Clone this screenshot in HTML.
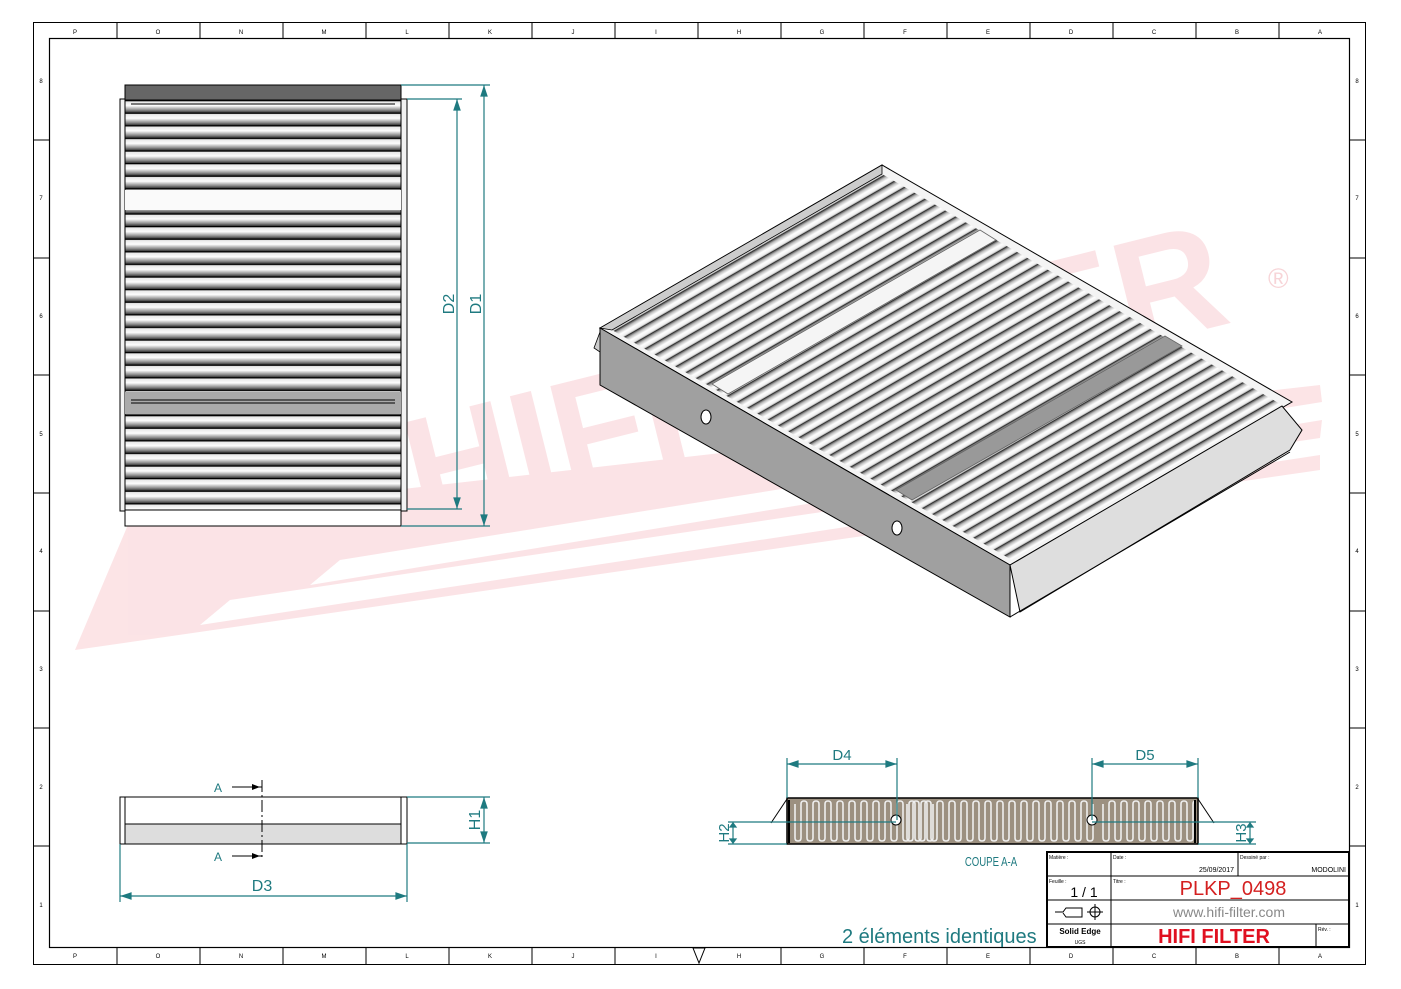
<!DOCTYPE html>
<html><head><meta charset="utf-8"><style>
html,body{margin:0;padding:0;background:#fff}
svg{display:block}
text{font-family:"Liberation Sans",sans-serif}
</style></head><body>
<svg width="1401" height="989" viewBox="0 0 1401 989" xmlns="http://www.w3.org/2000/svg">
<defs>
<linearGradient id="pv" x1="0" y1="0" x2="0" y2="1">
<stop offset="0" stop-color="#fff"/><stop offset="0.15" stop-color="#e8e8e8"/><stop offset="0.45" stop-color="#fdfdfd"/><stop offset="0.8" stop-color="#8a8a8a"/><stop offset="1" stop-color="#333"/>
</linearGradient>
<pattern id="pleatV" x="0" y="100" width="10" height="12.6" patternUnits="userSpaceOnUse">
<rect width="10" height="12.6" fill="url(#pv)"/><rect y="0" width="10" height="1.3" fill="#000"/>
</pattern>
<linearGradient id="ph" x1="0" y1="0" x2="1" y2="0">
<stop offset="0" stop-color="#555"/><stop offset="0.2" stop-color="#bbb"/><stop offset="0.5" stop-color="#fff"/><stop offset="0.8" stop-color="#eee"/><stop offset="1" stop-color="#777"/>
</linearGradient>
<pattern id="pleatI" width="10" height="300" patternUnits="userSpaceOnUse" patternTransform="matrix(1.025 0.5925 0.94 -0.543 600 328)">
<rect width="10" height="300" fill="url(#ph)"/><rect x="9.3" width="0.7" height="300" fill="#222"/>
</pattern>
<clipPath id="topc"><polygon points="612,330 882,174 1282,405 1012,560"/></clipPath>
<clipPath id="secc"><rect x="789" y="799" width="406" height="44"/></clipPath>
</defs>

<!-- watermark -->
<g fill="#fbdfe2" opacity="0.85">
<polygon points="75,650 130,520 1320,385 1322,402 340,560 310,585 1322,420 1320,438 230,600 200,625 1320,455 1320,470"/>
<polygon points="130,520 185,385 265,380 230,520"/>
<polygon points="230,520 265,380 330,378 300,515"/>
<text x="0" y="0" transform="translate(420,525) rotate(-14)" font-family="Liberation Serif,serif" font-weight="bold" font-size="150" fill="#fbdfe2">HIFI FILTER</text>
<text x="1268" y="288" font-size="28" fill="#f6cdd1">®</text>
</g>

<!-- borders -->
<rect x="33.5" y="22.5" width="1332" height="942" fill="none" stroke="#000" stroke-width="1"/>
<rect x="49.5" y="38.5" width="1300" height="909" fill="none" stroke="#000" stroke-width="1.2"/>
<g stroke="#000" stroke-width="1">
<line x1="117" y1="23" x2="117" y2="38"/><line x1="200" y1="23" x2="200" y2="38"/><line x1="283" y1="23" x2="283" y2="38"/><line x1="366" y1="23" x2="366" y2="38"/><line x1="449" y1="23" x2="449" y2="38"/><line x1="532" y1="23" x2="532" y2="38"/><line x1="615" y1="23" x2="615" y2="38"/><line x1="698" y1="23" x2="698" y2="38"/><line x1="781" y1="23" x2="781" y2="38"/><line x1="864" y1="23" x2="864" y2="38"/><line x1="947" y1="23" x2="947" y2="38"/><line x1="1030" y1="23" x2="1030" y2="38"/><line x1="1113" y1="23" x2="1113" y2="38"/><line x1="1196" y1="23" x2="1196" y2="38"/><line x1="1279" y1="23" x2="1279" y2="38"/>
<line x1="117" y1="948" x2="117" y2="964"/><line x1="200" y1="948" x2="200" y2="964"/><line x1="283" y1="948" x2="283" y2="964"/><line x1="366" y1="948" x2="366" y2="964"/><line x1="449" y1="948" x2="449" y2="964"/><line x1="532" y1="948" x2="532" y2="964"/><line x1="615" y1="948" x2="615" y2="964"/><line x1="781" y1="948" x2="781" y2="964"/><line x1="864" y1="948" x2="864" y2="964"/><line x1="947" y1="948" x2="947" y2="964"/><line x1="1030" y1="948" x2="1030" y2="964"/><line x1="1113" y1="948" x2="1113" y2="964"/><line x1="1196" y1="948" x2="1196" y2="964"/><line x1="1279" y1="948" x2="1279" y2="964"/>
<line x1="34" y1="140" x2="49" y2="140"/><line x1="34" y1="258" x2="49" y2="258"/><line x1="34" y1="375" x2="49" y2="375"/><line x1="34" y1="493" x2="49" y2="493"/><line x1="34" y1="611" x2="49" y2="611"/><line x1="34" y1="728" x2="49" y2="728"/><line x1="34" y1="846" x2="49" y2="846"/>
<line x1="1350" y1="140" x2="1365" y2="140"/><line x1="1350" y1="258" x2="1365" y2="258"/><line x1="1350" y1="375" x2="1365" y2="375"/><line x1="1350" y1="493" x2="1365" y2="493"/><line x1="1350" y1="611" x2="1365" y2="611"/><line x1="1350" y1="728" x2="1365" y2="728"/><line x1="1350" y1="846" x2="1365" y2="846"/>
</g>
<g font-size="6" fill="#000" text-anchor="middle">
<text x="75" y="34">P</text><text x="158" y="34">O</text><text x="241" y="34">N</text><text x="324" y="34">M</text><text x="407" y="34">L</text><text x="490" y="34">K</text><text x="573" y="34">J</text><text x="656" y="34">I</text><text x="739" y="34">H</text><text x="822" y="34">G</text><text x="905" y="34">F</text><text x="988" y="34">E</text><text x="1071" y="34">D</text><text x="1154" y="34">C</text><text x="1237" y="34">B</text><text x="1320" y="34">A</text>
<text x="75" y="958">P</text><text x="158" y="958">O</text><text x="241" y="958">N</text><text x="324" y="958">M</text><text x="407" y="958">L</text><text x="490" y="958">K</text><text x="573" y="958">J</text><text x="656" y="958">I</text><text x="739" y="958">H</text><text x="822" y="958">G</text><text x="905" y="958">F</text><text x="988" y="958">E</text><text x="1071" y="958">D</text><text x="1154" y="958">C</text><text x="1237" y="958">B</text><text x="1320" y="958">A</text>
<text x="41" y="83">8</text><text x="41" y="200">7</text><text x="41" y="318">6</text><text x="41" y="436">5</text><text x="41" y="553">4</text><text x="41" y="671">3</text><text x="41" y="789">2</text><text x="41" y="907">1</text>
<text x="1357" y="83">8</text><text x="1357" y="200">7</text><text x="1357" y="318">6</text><text x="1357" y="436">5</text><text x="1357" y="553">4</text><text x="1357" y="671">3</text><text x="1357" y="789">2</text><text x="1357" y="907">1</text>
</g>
<polygon points="693,948 705,948 699,963" fill="none" stroke="#000"/>

<!-- top view -->
<rect x="120" y="99" width="287" height="412" fill="#f2f2f2" stroke="#000"/>
<rect x="125" y="100" width="276" height="410" fill="url(#pleatV)" stroke="#000"/>
<rect x="125" y="85" width="276" height="15" fill="#666" stroke="#000"/>
<rect x="125" y="510" width="276" height="16" fill="#fff" stroke="#000"/>
<rect x="125" y="190" width="276" height="20" fill="#fafafa"/>
<rect x="125" y="392" width="276" height="22" fill="#aaa"/>
<line x1="131" y1="400" x2="395" y2="400" stroke="#000"/><line x1="131" y1="403" x2="395" y2="403" stroke="#000"/>
<line x1="131" y1="104" x2="395" y2="104" stroke="#000"/>
<g stroke="#1f7a80" stroke-width="1.2" fill="#1f7a80">
<line x1="401" y1="85" x2="490" y2="85"/><line x1="407" y1="99" x2="462" y2="99"/><line x1="407" y1="509" x2="462" y2="509"/><line x1="401" y1="526" x2="490" y2="526"/>
<line x1="457" y1="99" x2="457" y2="509"/><line x1="484" y1="85" x2="484" y2="526"/>
<polygon points="454,110 460,110 457,101"/><polygon points="454,498 460,498 457,507"/>
<polygon points="481,96 487,96 484,87"/><polygon points="481,515 487,515 484,524"/>
</g>
<text transform="translate(454,304) rotate(-90)" text-anchor="middle" font-size="16" fill="#1f7a80">D2</text>
<text transform="translate(481,304) rotate(-90)" text-anchor="middle" font-size="16" fill="#1f7a80">D1</text>

<!-- iso view -->
<polygon points="600,328 882,165 1292,402 1010,565" fill="#f4f4f4" stroke="#000"/>
<g clip-path="url(#topc)"><rect x="580" y="150" width="730" height="430" fill="url(#pleatI)"/></g>
<polygon points="712,384 980,230 996,240 728,394" fill="#f5f5f5" stroke="#666" stroke-width="0.8"/>
<polygon points="896,490 1165,336 1182,346 912,500" fill="#999" stroke="#666" stroke-width="0.8"/>
<polygon points="612,330 882,174 882,165 600,328" fill="#ccc" stroke="#000" stroke-width="0.8"/>
<polygon points="600,328 1010,565 1010,617 600,385" fill="#a0a0a0" stroke="#000"/>
<polygon points="1010,565 1282,406 1302,430 1290,450 1020,612" fill="#dedede" stroke="#000"/>
<line x1="1010" y1="617" x2="1290" y2="452" stroke="#000"/>
<polygon points="600,332 594,348 600,352" fill="#ccc" stroke="#000" stroke-width="0.8"/>
<ellipse cx="706" cy="417" rx="5" ry="7" fill="#fff" stroke="#000"/>
<ellipse cx="897" cy="528" rx="5" ry="7" fill="#fff" stroke="#000"/>

<!-- side view -->
<rect x="120" y="797" width="287" height="47" fill="#fff" stroke="#000"/>
<rect x="125" y="797" width="276" height="47" fill="#fff" stroke="#000"/>
<rect x="125" y="824" width="276" height="20" fill="#ddd" stroke="#000"/>
<g stroke="#000" stroke-width="1">
<line x1="262" y1="780" x2="262" y2="860" stroke-dasharray="12,3,2,3"/>
<line x1="232" y1="787" x2="262" y2="787"/><line x1="232" y1="856" x2="262" y2="856"/>
</g>
<polygon points="252,784 252,790 260,787" fill="#000"/><polygon points="252,853 252,859 260,856" fill="#000"/>
<text x="218" y="792" font-size="12" fill="#1f7a80" text-anchor="middle">A</text>
<text x="218" y="861" font-size="12" fill="#1f7a80" text-anchor="middle">A</text>
<g stroke="#1f7a80" stroke-width="1.2" fill="#1f7a80">
<line x1="407" y1="797" x2="490" y2="797"/><line x1="407" y1="843" x2="490" y2="843"/>
<line x1="484" y1="797" x2="484" y2="843"/>
<polygon points="481,808 487,808 484,799"/><polygon points="481,832 487,832 484,841"/>
<line x1="120" y1="844" x2="120" y2="902"/><line x1="407" y1="844" x2="407" y2="902"/>
<line x1="120" y1="896" x2="407" y2="896"/>
<polygon points="131,893 131,899 122,896"/><polygon points="396,893 396,899 405,896"/>
</g>
<text transform="translate(480,820) rotate(-90)" text-anchor="middle" font-size="16" fill="#1f7a80">H1</text>
<text x="262" y="891" text-anchor="middle" font-size="16" fill="#1f7a80">D3</text>

<!-- section -->
<rect x="787" y="798" width="411" height="46" fill="#9c9080" stroke="#000" stroke-width="1.5"/>
<g fill="none" stroke="#eee" stroke-width="1.6" clip-path="url(#secc)">
<path d="M795,804 v34 q0,3 3,3 q3,0 3,-3 v-34 q0,-3 3,-3 q3,0 3,3 v34 q0,3 3,3 q3,0 3,-3 v-34 q0,-3 3,-3 q3,0 3,3 v34 q0,3 3,3 q3,0 3,-3 v-34 q0,-3 3,-3 q3,0 3,3 v34 q0,3 3,3 q3,0 3,-3 v-34 q0,-3 3,-3 q3,0 3,3 v34 q0,3 3,3 q3,0 3,-3 v-34 q0,-3 3,-3 q3,0 3,3 v34 q0,3 3,3 q3,0 3,-3 v-34 q0,-3 3,-3 q3,0 3,3 v34 q0,3 3,3 q3,0 3,-3 v-34 q0,-3 3,-3 q3,0 3,3 v34 q0,3 3,3 q3,0 3,-3 v-34 q0,-3 3,-3 q3,0 3,3 v34 q0,3 3,3 q3,0 3,-3 v-34 q0,-3 3,-3 q3,0 3,3 v34 q0,3 3,3 q3,0 3,-3 v-34 q0,-3 3,-3 q3,0 3,3 v34 q0,3 3,3 q3,0 3,-3 v-34 q0,-3 3,-3 q3,0 3,3 v34 q0,3 3,3 q3,0 3,-3 v-34"/>
<path d="M907,804 v34 q0,3 3,3 q3,0 3,-3 v-34 q0,-3 3,-3 q3,0 3,3 v34 q0,3 3,3 q3,0 3,-3 v-34 q0,-3 3,-3 q3,0 3,3 v34 q0,3 3,3 q3,0 3,-3 v-34 q0,-3 3,-3 q3,0 3,3 v34 q0,3 3,3 q3,0 3,-3 v-34 q0,-3 3,-3 q3,0 3,3 v34 q0,3 3,3 q3,0 3,-3 v-34 q0,-3 3,-3 q3,0 3,3 v34 q0,3 3,3 q3,0 3,-3 v-34 q0,-3 3,-3 q3,0 3,3 v34 q0,3 3,3 q3,0 3,-3 v-34 q0,-3 3,-3 q3,0 3,3 v34 q0,3 3,3 q3,0 3,-3 v-34 q0,-3 3,-3 q3,0 3,3 v34 q0,3 3,3 q3,0 3,-3 v-34 q0,-3 3,-3 q3,0 3,3 v34 q0,3 3,3 q3,0 3,-3 v-34 q0,-3 3,-3 q3,0 3,3 v34 q0,3 3,3 q3,0 3,-3 v-34 q0,-3 3,-3 q3,0 3,3 v34 q0,3 3,3 q3,0 3,-3 v-34 q0,-3 3,-3 q3,0 3,3 v34 q0,3 3,3 q3,0 3,-3 v-34 q0,-3 3,-3 q3,0 3,3 v34 q0,3 3,3 q3,0 3,-3 v-34 q0,-3 3,-3 q3,0 3,3 v34 q0,3 3,3 q3,0 3,-3 v-34 q0,-3 3,-3 q3,0 3,3 v34 q0,3 3,3 q3,0 3,-3 v-34"/>
<path d="M1103,804 v34 q0,3 3,3 q3,0 3,-3 v-34 q0,-3 3,-3 q3,0 3,3 v34 q0,3 3,3 q3,0 3,-3 v-34 q0,-3 3,-3 q3,0 3,3 v34 q0,3 3,3 q3,0 3,-3 v-34 q0,-3 3,-3 q3,0 3,3 v34 q0,3 3,3 q3,0 3,-3 v-34 q0,-3 3,-3 q3,0 3,3 v34 q0,3 3,3 q3,0 3,-3 v-34 q0,-3 3,-3 q3,0 3,3 v34 q0,3 3,3 q3,0 3,-3 v-34 q0,-3 3,-3 q3,0 3,3 v34 q0,3 3,3 q3,0 3,-3 v-34 q0,-3 3,-3 q3,0 3,3 v34 q0,3 3,3 q3,0 3,-3 v-34 q0,-3 3,-3 q3,0 3,3 v34 q0,3 3,3 q3,0 3,-3 v-34 q0,-3 3,-3 q3,0 3,3 v34 q0,3 3,3 q3,0 3,-3 v-34"/>
</g>
<line x1="789" y1="800" x2="789" y2="843" stroke="#000" stroke-width="2"/><line x1="1195" y1="800" x2="1195" y2="843" stroke="#000" stroke-width="2"/>
<line x1="787" y1="799" x2="771" y2="823" stroke="#000"/><line x1="1198" y1="799" x2="1214" y2="823" stroke="#000"/>
<circle cx="896" cy="820" r="5" fill="#fff" stroke="#000"/><circle cx="1092" cy="820" r="5" fill="#fff" stroke="#000"/>
<g stroke="#1f7a80" stroke-width="1.2" fill="#1f7a80">
<line x1="787" y1="758" x2="787" y2="798"/><line x1="897" y1="758" x2="897" y2="820"/>
<line x1="787" y1="764" x2="897" y2="764"/>
<polygon points="798,761 798,767 789,764"/><polygon points="886,761 886,767 895,764"/>
<line x1="1092" y1="758" x2="1092" y2="820"/><line x1="1198" y1="758" x2="1198" y2="798"/>
<line x1="1092" y1="764" x2="1198" y2="764"/>
<polygon points="1103,761 1103,767 1094,764"/><polygon points="1187,761 1187,767 1196,764"/>
<line x1="728" y1="822" x2="896" y2="822"/><line x1="728" y1="844" x2="787" y2="844"/>
<line x1="733" y1="822" x2="733" y2="844"/>
<polygon points="730,827 736,827 733,823"/><polygon points="730,839 736,839 733,843"/>
<line x1="1092" y1="822" x2="1256" y2="822"/><line x1="1198" y1="844" x2="1256" y2="844"/>
<line x1="1250" y1="822" x2="1250" y2="844"/>
<polygon points="1247,827 1253,827 1250,823"/><polygon points="1247,839 1253,839 1250,843"/>
</g>
<text x="842" y="760" text-anchor="middle" font-size="15" fill="#1f7a80">D4</text>
<text x="1145" y="760" text-anchor="middle" font-size="15" fill="#1f7a80">D5</text>
<text transform="translate(729,833) rotate(-90)" text-anchor="middle" font-size="15" fill="#1f7a80">H2</text>
<text transform="translate(1246,833) rotate(-90)" text-anchor="middle" font-size="15" fill="#1f7a80">H3</text>
<text x="991" y="866" text-anchor="middle" font-size="12" fill="#1f7a80" transform="translate(991,866) scale(0.8,1.1) translate(-991,-866)">COUPE A-A</text>

<text x="842" y="943" font-size="20" fill="#1f7a80">2 éléments identiques</text>

<!-- title block -->
<rect x="1047" y="852" width="302" height="95" fill="#fff" stroke="#000" stroke-width="2"/>
<g stroke="#000" stroke-width="1">
<line x1="1047" y1="876" x2="1349" y2="876"/><line x1="1047" y1="900" x2="1349" y2="900"/><line x1="1047" y1="924" x2="1349" y2="924"/>
<line x1="1111" y1="852" x2="1111" y2="947"/><line x1="1238" y1="852" x2="1238" y2="876"/><line x1="1316" y1="924" x2="1316" y2="947"/>
</g>
<g font-size="5" fill="#000"><text x="1049" y="859">Matière :</text><text x="1113" y="859">Date :</text><text x="1240" y="859">Dessiné par :</text><text x="1049" y="883">Feuille :</text><text x="1113" y="883">Titre :</text><text x="1318" y="931">Rév. :</text></g>
<text x="1234" y="872" font-size="7" text-anchor="end">25/09/2017</text>
<text x="1346" y="872" font-size="7" text-anchor="end">MODOLINI</text>
<text x="1084" y="897" font-size="14" text-anchor="middle">1 / 1</text>
<text x="1233" y="895" font-size="20" fill="#d42020" text-anchor="middle">PLKP_0498</text>
<text x="1229" y="917" font-size="14" fill="#888" text-anchor="middle">www.hifi-filter.com</text>
<text x="1214" y="943" font-size="20" font-weight="bold" fill="#e01020" text-anchor="middle">HIFI FILTER</text>
<text x="1080" y="934" font-size="8" font-weight="bold" text-anchor="middle">Solid Edge</text>
<text x="1080" y="944" font-size="5" text-anchor="middle">UGS</text>
<g stroke="#000" fill="none" stroke-width="1"><path d="M1055,912 h8 l3,-4 h16 v9 h-16 l-3,-4"/><circle cx="1095" cy="912" r="5"/><line x1="1087" y1="912" x2="1103" y2="912"/><line x1="1095" y1="904" x2="1095" y2="920"/></g>
</svg>
</body></html>
